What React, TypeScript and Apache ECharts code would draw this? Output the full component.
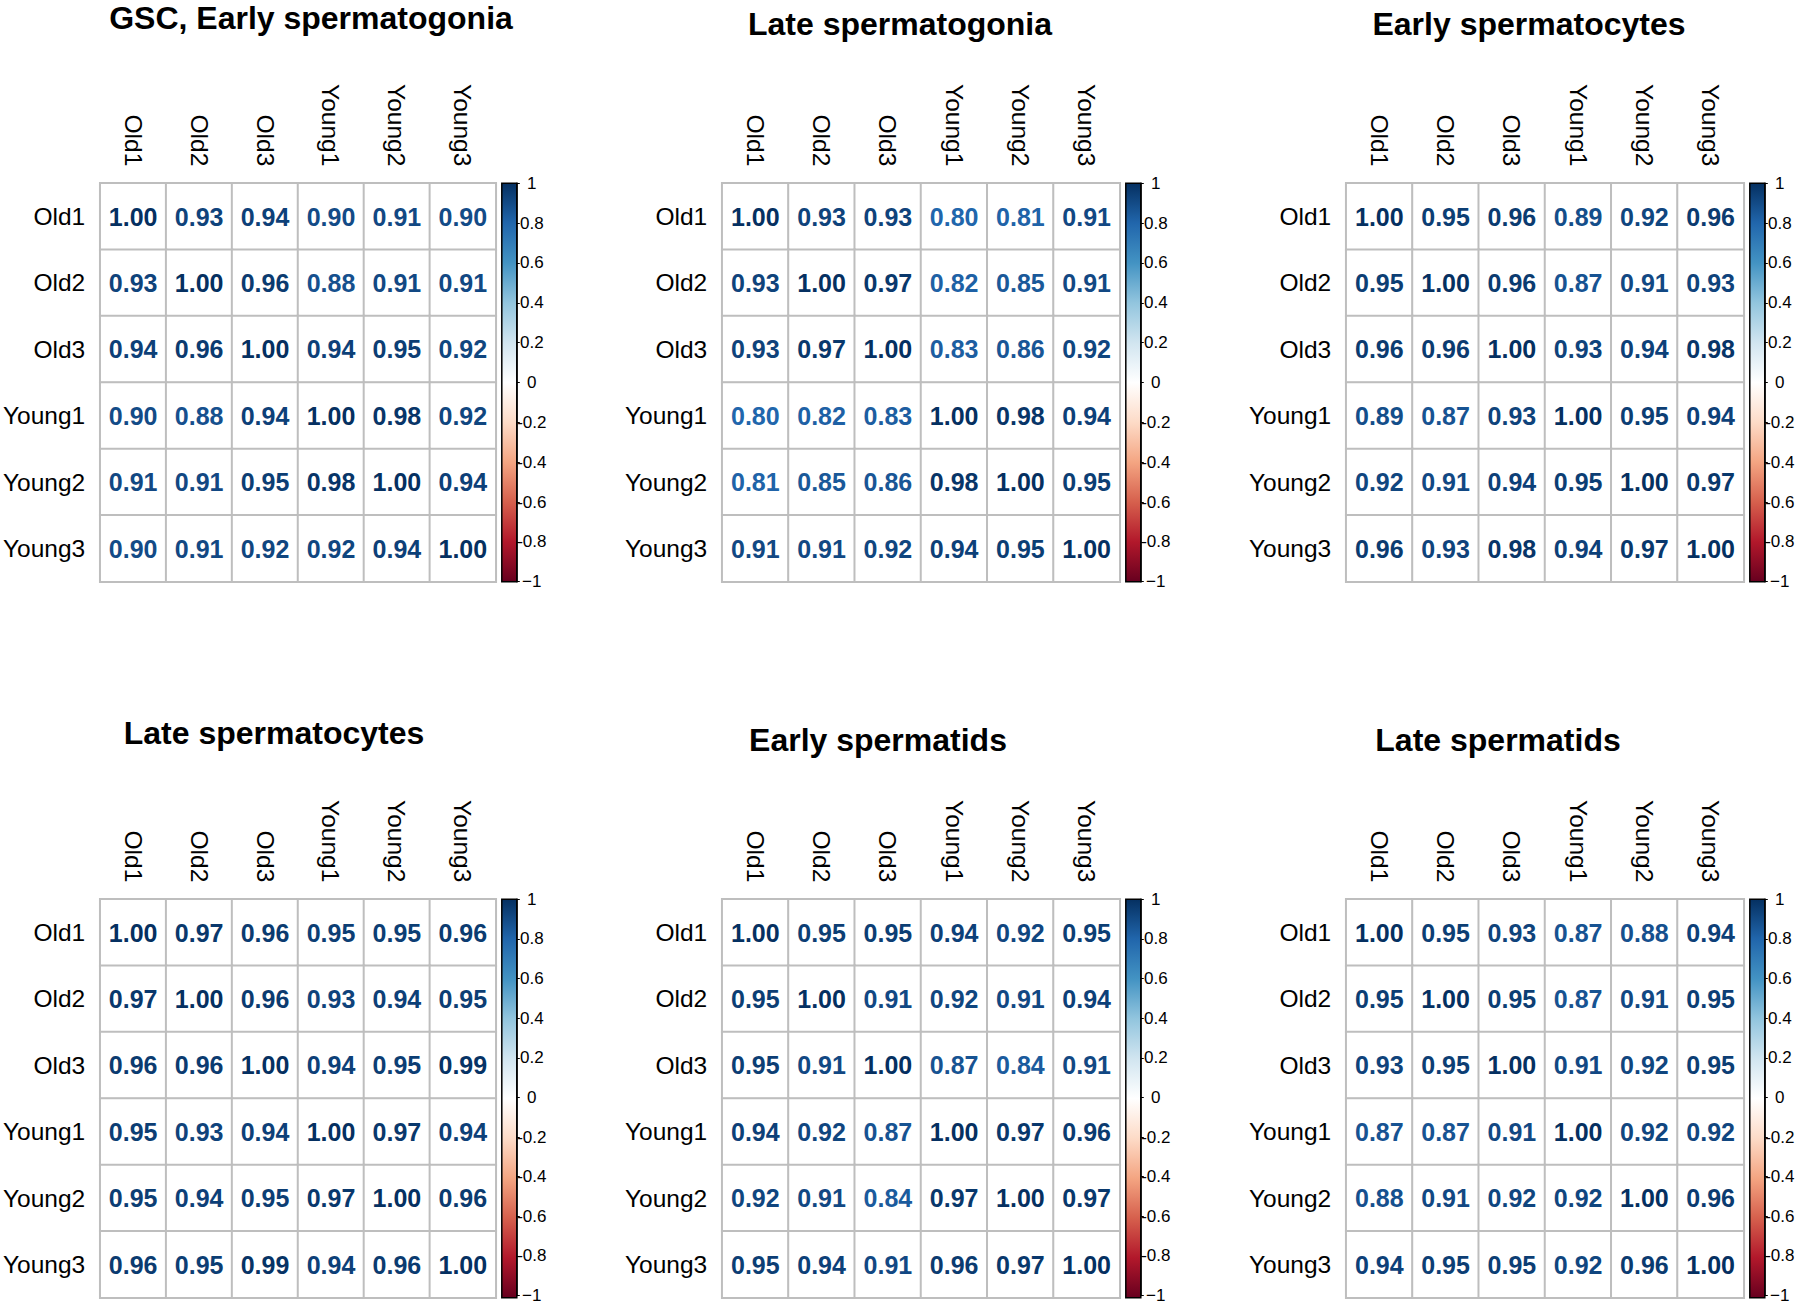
import React, { useEffect, useRef } from "react";
import * as echarts from "echarts";

// ---------- data ----------
const samples = ["Old1", "Old2", "Old3", "Young1", "Young2", "Young3"];

const panelTitles = [
  "GSC, Early spermatogonia",
  "Late spermatogonia",
  "Early spermatocytes",
  "Late spermatocytes",
  "Early spermatids",
  "Late spermatids",
];

const gscEarlySpermatogonia = [
  [1.0, 0.93, 0.94, 0.9, 0.91, 0.9],
  [0.93, 1.0, 0.96, 0.88, 0.91, 0.91],
  [0.94, 0.96, 1.0, 0.94, 0.95, 0.92],
  [0.9, 0.88, 0.94, 1.0, 0.98, 0.92],
  [0.91, 0.91, 0.95, 0.98, 1.0, 0.94],
  [0.9, 0.91, 0.92, 0.92, 0.94, 1.0],
];

const lateSpermatogonia = [
  [1.0, 0.93, 0.93, 0.8, 0.81, 0.91],
  [0.93, 1.0, 0.97, 0.82, 0.85, 0.91],
  [0.93, 0.97, 1.0, 0.83, 0.86, 0.92],
  [0.8, 0.82, 0.83, 1.0, 0.98, 0.94],
  [0.81, 0.85, 0.86, 0.98, 1.0, 0.95],
  [0.91, 0.91, 0.92, 0.94, 0.95, 1.0],
];

const earlySpermatocytes = [
  [1.0, 0.95, 0.96, 0.89, 0.92, 0.96],
  [0.95, 1.0, 0.96, 0.87, 0.91, 0.93],
  [0.96, 0.96, 1.0, 0.93, 0.94, 0.98],
  [0.89, 0.87, 0.93, 1.0, 0.95, 0.94],
  [0.92, 0.91, 0.94, 0.95, 1.0, 0.97],
  [0.96, 0.93, 0.98, 0.94, 0.97, 1.0],
];

const lateSpermatocytes = [
  [1.0, 0.97, 0.96, 0.95, 0.95, 0.96],
  [0.97, 1.0, 0.96, 0.93, 0.94, 0.95],
  [0.96, 0.96, 1.0, 0.94, 0.95, 0.99],
  [0.95, 0.93, 0.94, 1.0, 0.97, 0.94],
  [0.95, 0.94, 0.95, 0.97, 1.0, 0.96],
  [0.96, 0.95, 0.99, 0.94, 0.96, 1.0],
];

const earlySpermatids = [
  [1.0, 0.95, 0.95, 0.94, 0.92, 0.95],
  [0.95, 1.0, 0.91, 0.92, 0.91, 0.94],
  [0.95, 0.91, 1.0, 0.87, 0.84, 0.91],
  [0.94, 0.92, 0.87, 1.0, 0.97, 0.96],
  [0.92, 0.91, 0.84, 0.97, 1.0, 0.97],
  [0.95, 0.94, 0.91, 0.96, 0.97, 1.0],
];

const lateSpermatids = [
  [1.0, 0.95, 0.93, 0.87, 0.88, 0.94],
  [0.95, 1.0, 0.95, 0.87, 0.91, 0.95],
  [0.93, 0.95, 1.0, 0.91, 0.92, 0.95],
  [0.87, 0.87, 0.91, 1.0, 0.92, 0.92],
  [0.88, 0.91, 0.92, 0.92, 1.0, 0.96],
  [0.94, 0.95, 0.95, 0.92, 0.96, 1.0],
];

const matrices = [
  gscEarlySpermatogonia,
  lateSpermatogonia,
  earlySpermatocytes,
  lateSpermatocytes,
  earlySpermatids,
  lateSpermatids,
];

// colour legend scale
const legendMin = -1;
const legendMax = 1;
const legendStep = 0.2;

// RdBu palette (from -1 to 1)
const RDBU = [
  "#67001F", "#B2182B", "#D6604D", "#F4A582", "#FDDBC7", "#FFFFFF",
  "#D1E5F0", "#92C5DE", "#4393C3", "#2166AC", "#053061",
];

// ---------- layout / style ----------
const FONT = "'Liberation Sans', Arial, Helvetica, sans-serif";
const GRID_LEFT = [98.2, 722.2, 1346.2];
const GRID_TOP = [183.3, 899.3];
const GRID_W = 397.6;
const GRID_H = 398.4;
const BAR_GAP = 6;
const BAR_W = 15;
const TITLE_X = [311, 900, 1529, 274, 878, 1498];
const TITLE_Y = [18, 24, 24, 733, 739.5, 739.5];

function hexToRgb(h: string) {
  return [1, 3, 5].map((i) => parseInt(h.slice(i, i + 2), 16));
}

function corrColor(v: number) {
  const t = ((v - legendMin) / (legendMax - legendMin)) * (RDBU.length - 1);
  const i = Math.max(0, Math.min(Math.floor(t), RDBU.length - 2));
  const f = t - i;
  const a = hexToRgb(RDBU[i]);
  const b = hexToRgb(RDBU[i + 1]);
  const c = a.map((x, k) => Math.round(x + (b[k] - x) * f));
  return `rgb(${c[0]},${c[1]},${c[2]})`;
}

function legendLabel(v: number) {
  const r = Math.round(v * 10) / 10;
  if (r === -1) return "\u22121";
  if (r === 0) return "0";
  return String(r);
}

export default function App() {
  const ref = useRef<HTMLDivElement>(null);

  useEffect(() => {
    document.body.style.margin = "0";
    if (!ref.current) return;
    const chart = echarts.init(ref.current, undefined, { renderer: "svg" });

    const grid: any[] = [];
    const xAxis: any[] = [];
    const yAxis: any[] = [];
    const series: any[] = [];
    const graphic: any[] = [];

    const gradStops = RDBU.map((c, i) => ({
      offset: 1 - i / (RDBU.length - 1),
      color: c,
    })).reverse();

    matrices.forEach((m, p) => {
      const col = p % 3;
      const row = Math.floor(p / 3);
      const gl = GRID_LEFT[col];
      const gt = GRID_TOP[row];
      const hi = 2 * p;
      const ci = 2 * p + 1;

      grid.push({ left: gl, top: gt, width: GRID_W, height: GRID_H });
      grid.push({ left: gl + GRID_W + BAR_GAP, top: gt, width: BAR_W, height: GRID_H });

      xAxis.push({
        type: "category",
        gridIndex: hi,
        data: samples,
        position: "top",
        axisLine: { show: false },
        axisTick: { show: false },
        splitLine: { show: false },
        axisLabel: {
          rotate: 90,
          margin: 17,
          interval: 0,
          fontSize: 24.5,
          color: "#000",
          fontFamily: FONT,
        },
      });
      yAxis.push({
        type: "category",
        gridIndex: hi,
        data: samples,
        inverse: true,
        axisLine: { show: false },
        axisTick: { show: false },
        splitLine: { show: false },
        axisLabel: {
          margin: 15,
          interval: 0,
          fontSize: 24.5,
          color: "#000",
          fontFamily: FONT,
          padding: [0, 0, 4, 0],
        },
      });

      xAxis.push({ type: "category", gridIndex: ci, data: [""], show: false });
      yAxis.push({
        type: "value",
        gridIndex: ci,
        min: legendMin,
        max: legendMax,
        interval: legendStep,
        position: "right",
        axisLine: { show: true, lineStyle: { color: "#000", width: 1.5 } },
        axisTick: { show: true, length: 3, lineStyle: { color: "#000", width: 1 } },
        splitLine: { show: false },
        axisLabel: {
          margin: 15,
          align: "center",
          fontSize: 17,
          color: "#000",
          fontFamily: FONT,
          formatter: (v: number) => legendLabel(v),
        },
      });

      series.push({
        type: "heatmap",
        xAxisIndex: hi,
        yAxisIndex: hi,
        data: m.flatMap((r, ri) =>
          r.map((v, cj) => ({
            value: [cj, ri, v],
            label: { color: corrColor(v) },
          }))
        ),
        itemStyle: { borderColor: "#BEBEBE", borderWidth: 2 },
        label: {
          show: true,
          formatter: (d: any) => Number(d.value[2]).toFixed(2),
          fontSize: 25,
          fontWeight: "bold",
          fontFamily: FONT,
        },
        emphasis: { disabled: true },
      });

      graphic.push({
        type: "rect",
        z: 0,
        shape: { x: gl + GRID_W + BAR_GAP, y: gt, width: BAR_W, height: GRID_H },
        style: {
          fill: new echarts.graphic.LinearGradient(0, 0, 0, 1, gradStops),
          stroke: "#000",
          lineWidth: 1.5,
        },
      });

      graphic.push({
        type: "text",
        x: TITLE_X[p],
        y: TITLE_Y[p],
        style: {
          text: panelTitles[p],
          font: `bold 32px ${FONT}`,
          fill: "#000",
          textAlign: "center",
          textVerticalAlign: "middle",
          align: "center",
          verticalAlign: "middle",
        },
      });
    });

    chart.setOption({
      animation: false,
      backgroundColor: "#ffffff",
      textStyle: { fontFamily: FONT },
      visualMap: {
        type: "continuous",
        show: false,
        seriesIndex: series.map((_, i) => i),
        dimension: 2,
        min: legendMin,
        max: legendMax,
        inRange: { color: ["#ffffff", "#ffffff"] },
      },
      grid,
      xAxis,
      yAxis,
      series,
      graphic,
    });

    return () => chart.dispose();
  }, []);

  return <div ref={ref} style={{ width: 1800, height: 1304 }} />;
}
